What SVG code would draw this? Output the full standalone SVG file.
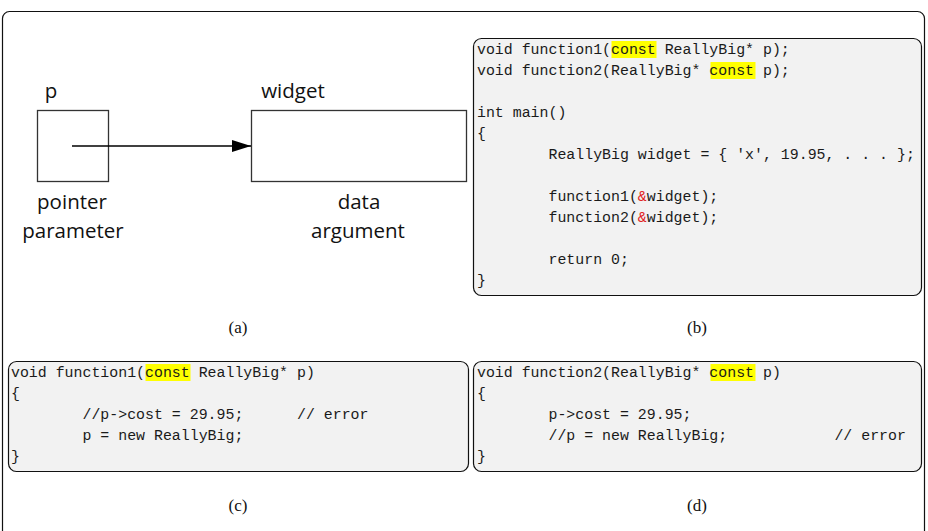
<svg xmlns="http://www.w3.org/2000/svg" width="928" height="531" viewBox="0 0 928 531">
<defs>
<style>
.code{font-family:"Liberation Mono","DejaVu Sans Mono",monospace;font-size:14.9px;fill:#1a1a1a;white-space:pre}
.box{fill:#f2f2f2;stroke:#111;stroke-width:1.2}
.hl{fill:#ffff00}
.lbl{font-family:"Open Sans","Noto Sans",sans-serif;font-size:20.5px;fill:#111;text-anchor:middle}
.cap{font-family:"Liberation Serif",serif;font-size:17px;fill:#111;text-anchor:middle}
.amp{fill:#e02020}
.sq{fill:#fff;stroke:#333;stroke-width:1.3}
</style>
<marker id="arr" markerWidth="20" markerHeight="14" refX="19" refY="6" orient="auto" markerUnits="userSpaceOnUse">
<path d="M0,0 L19,6 L0,12 Z" fill="#000"/>
</marker>
</defs>
<rect x="0" y="0" width="928" height="531" fill="#fff"/>
<rect x="2.5" y="11.5" width="922" height="560" rx="7" fill="none" stroke="#111" stroke-width="1.2"/>

<g id="node-p">
<rect class="sq" x="37.5" y="110.5" width="71" height="71"/>
<text class="lbl" x="51" y="98">p</text>
<text class="lbl" x="72" y="209">pointer</text>
<text class="lbl" x="73" y="238">parameter</text>
</g>
<g id="node-widget">
<rect class="sq" x="251.5" y="110.5" width="215" height="71"/>
<text class="lbl" x="293" y="98">widget</text>
<text class="lbl" x="359" y="209">data</text>
<text class="lbl" x="358" y="238">argument</text>
</g>
<g id="connectors">
<line x1="72" y1="146" x2="251" y2="146" stroke="#000" stroke-width="1.3" marker-end="url(#arr)"/>
</g>

<g id="code-b">
<rect class="box" x="473.5" y="38.5" width="448" height="257" rx="8"/>
<rect class="hl" x="611.5" y="41" width="45" height="17"/>
<rect class="hl" x="710.5" y="62" width="45" height="17"/>
<text class="code" x="477" y="54">void function1(const ReallyBig* p);</text>
<text class="code" x="477" y="75">void function2(ReallyBig* const p);</text>
<text class="code" x="477" y="117">int main()</text>
<text class="code" x="477" y="138">{</text>
<text class="code" x="477" y="159">        ReallyBig widget = { 'x', 19.95, . . . };</text>
<text class="code" x="477" y="201">        function1(<tspan class="amp">&amp;</tspan>widget);</text>
<text class="code" x="477" y="222">        function2(<tspan class="amp">&amp;</tspan>widget);</text>
<text class="code" x="477" y="264">        return 0;</text>
<text class="code" x="477" y="285">}</text>
</g>

<g id="code-c">
<rect class="box" x="8.5" y="361.5" width="460" height="110" rx="8"/>
<rect class="hl" x="145.5" y="364" width="45" height="17"/>
<text class="code" x="11" y="377">void function1(const ReallyBig* p)</text>
<text class="code" x="11" y="398">{</text>
<text class="code" x="11" y="419">        //p-&gt;cost = 29.95;      // error</text>
<text class="code" x="11" y="440">        p = new ReallyBig;</text>
<text class="code" x="11" y="461">}</text>
</g>

<g id="code-d">
<rect class="box" x="473.5" y="361.5" width="448" height="110" rx="8"/>
<rect class="hl" x="710.5" y="364" width="45" height="17"/>
<text class="code" x="477" y="377">void function2(ReallyBig* const p)</text>
<text class="code" x="477" y="398">{</text>
<text class="code" x="477" y="419">        p-&gt;cost = 29.95;</text>
<text class="code" x="477" y="440">        //p = new ReallyBig;            // error</text>
<text class="code" x="477" y="461">}</text>
</g>

<g id="captions">
<text class="cap" x="238" y="333">(a)</text>
<text class="cap" x="697" y="333">(b)</text>
<text class="cap" x="238" y="511">(c)</text>
<text class="cap" x="697" y="511">(d)</text>
</g>
</svg>
